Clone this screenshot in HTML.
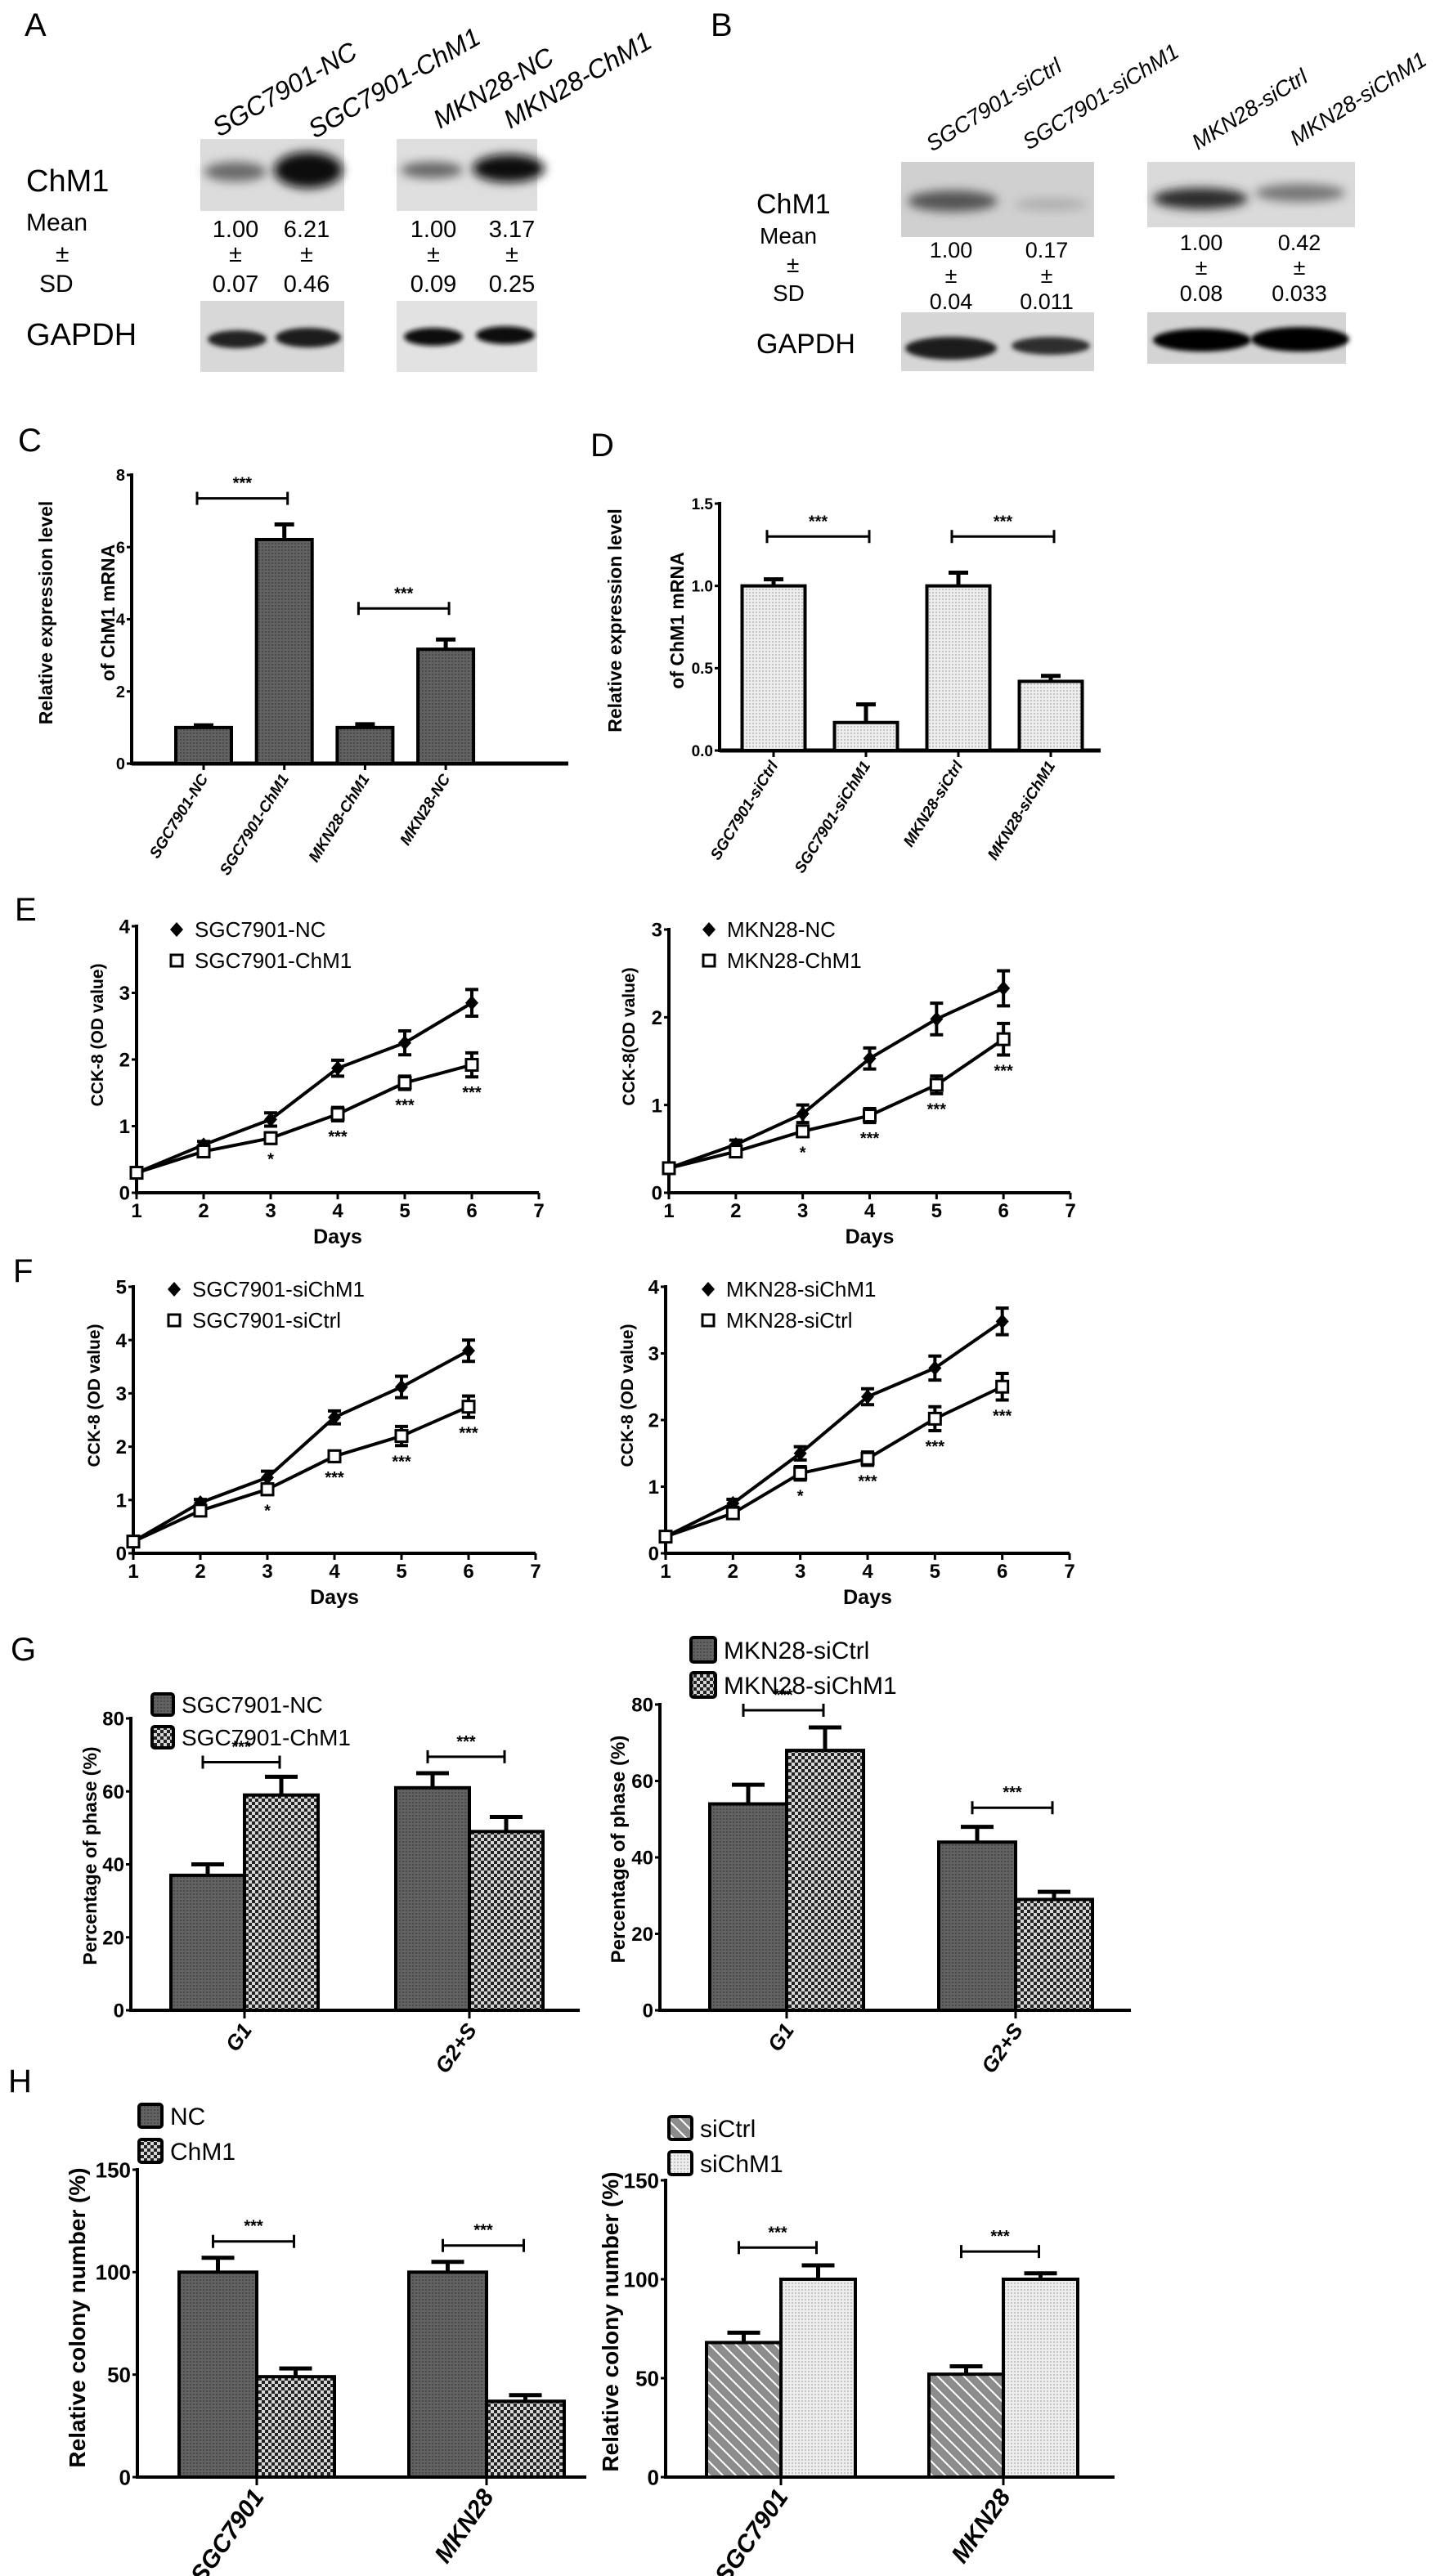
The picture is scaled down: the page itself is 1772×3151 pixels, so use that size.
<!DOCTYPE html>
<html><head><meta charset="utf-8">
<style>
html,body{margin:0;padding:0;background:#fff;}
svg{display:block;}
.lt{font-family:"Liberation Sans Narrow","Liberation Sans",sans-serif;}
.it{font-family:"Liberation Sans",sans-serif;font-style:italic;}
.bd{font-family:"Liberation Sans",sans-serif;font-weight:bold;}
</style></head>
<body>
<svg id="fig" xmlns="http://www.w3.org/2000/svg" width="1772" height="3151" viewBox="0 0 1772 3151">
<defs>
<pattern id="pDark" width="4" height="4" patternUnits="userSpaceOnUse"><rect width="4" height="4" fill="#626262"/><rect width="2" height="2" fill="#4a4a4a"/></pattern>
<pattern id="pCheck" width="8" height="8" patternUnits="userSpaceOnUse"><rect width="8" height="8" fill="#d8d8d8"/><rect width="4" height="4" fill="#222"/><rect x="4" y="4" width="4" height="4" fill="#222"/></pattern>
<pattern id="pHatch" width="16" height="16" patternUnits="userSpaceOnUse"><rect width="16" height="16" fill="#8c8c8c"/><path d="M-4,-4 L20,20 M-4,12 L4,20 M12,-4 L20,4" stroke="#fff" stroke-width="2"/></pattern>
<pattern id="pLight" width="4" height="4" patternUnits="userSpaceOnUse"><rect width="4" height="4" fill="#eeeeee"/><rect width="2" height="2" fill="#c4c4c4"/></pattern>
<filter id="blur6" x="-50%" y="-50%" width="200%" height="200%"><feGaussianBlur stdDeviation="6"/></filter>
<filter id="blur3" x="-50%" y="-50%" width="200%" height="200%"><feGaussianBlur stdDeviation="3"/></filter>
</defs>

<!-- Panel A -->
<g>
<text class="lt" x="30" y="44" font-size="40">A</text>
<text class="it" font-size="32" transform="translate(268,168) rotate(-30)">SGC7901-NC</text>
<text class="it" font-size="32" transform="translate(385,170) rotate(-30)">SGC7901-ChM1</text>
<text class="it" font-size="32" transform="translate(538,158) rotate(-30)">MKN28-NC</text>
<text class="it" font-size="32" transform="translate(624,158) rotate(-30)">MKN28-ChM1</text>
<text class="lt" x="32" y="234" font-size="38">ChM1</text>
<text class="lt" x="32" y="282" font-size="30">Mean</text>
<text class="lt" x="68" y="320" font-size="30">±</text>
<text class="lt" x="48" y="357" font-size="30">SD</text>
<g><rect x="245" y="170" width="176" height="88" fill="#dcdcdc"/><ellipse cx="288" cy="210" rx="38" ry="12" fill="#6a6a6a" filter="url(#blur6)"/><ellipse cx="377" cy="208" rx="42" ry="22" fill="#111" filter="url(#blur6)"/></g>
<g><rect x="485" y="170" width="172" height="88" fill="#dedede"/><ellipse cx="528" cy="208" rx="38" ry="10" fill="#666" filter="url(#blur6)"/><ellipse cx="622" cy="206" rx="44" ry="17" fill="#111" filter="url(#blur6)"/></g>
<g class="lt" font-size="29" text-anchor="middle">
<text x="288" y="290">1.00</text><text x="375" y="290">6.21</text><text x="530" y="290">1.00</text><text x="626" y="290">3.17</text>
<text x="288" y="320">±</text><text x="375" y="320">±</text><text x="530" y="320">±</text><text x="626" y="320">±</text>
<text x="288" y="357">0.07</text><text x="375" y="357">0.46</text><text x="530" y="357">0.09</text><text x="626" y="357">0.25</text>
</g>
<text class="lt" x="32" y="422" font-size="38">GAPDH</text>
<g><rect x="245" y="368" width="176" height="87" fill="#d8d8d8"/><ellipse cx="290" cy="415" rx="36" ry="11" fill="#222" filter="url(#blur3)"/><ellipse cx="377" cy="413" rx="40" ry="12" fill="#1a1a1a" filter="url(#blur3)"/></g>
<g><rect x="485" y="368" width="172" height="87" fill="#e2e2e2"/><ellipse cx="530" cy="412" rx="36" ry="11" fill="#0a0a0a" filter="url(#blur3)"/><ellipse cx="618" cy="410" rx="36" ry="11" fill="#0a0a0a" filter="url(#blur3)"/></g>
</g>

<!-- Panel B -->
<g>
<text class="lt" x="869" y="44" font-size="40">B</text>
<text class="it" font-size="27" transform="translate(1140,186) rotate(-32)">SGC7901-siCtrl</text>
<text class="it" font-size="27" transform="translate(1258,184) rotate(-32)">SGC7901-siChM1</text>
<text class="it" font-size="27" transform="translate(1465,184) rotate(-32)">MKN28-siCtrl</text>
<text class="it" font-size="27" transform="translate(1585,179) rotate(-32)">MKN28-siChM1</text>
<text class="lt" x="925" y="261" font-size="34">ChM1</text>
<text class="lt" x="929" y="298" font-size="28">Mean</text>
<text class="lt" x="962" y="333" font-size="28">±</text>
<text class="lt" x="945" y="368" font-size="28">SD</text>
<g><rect x="1102" y="198" width="236" height="92" fill="#d0d0d0"/><ellipse cx="1165" cy="246" rx="55" ry="13" fill="#555" filter="url(#blur6)"/><ellipse cx="1285" cy="250" rx="45" ry="8" fill="#b0b0b0" filter="url(#blur6)"/></g>
<g><rect x="1403" y="198" width="254" height="80" fill="#dadada"/><ellipse cx="1468" cy="243" rx="58" ry="13" fill="#2a2a2a" filter="url(#blur6)"/><ellipse cx="1590" cy="236" rx="55" ry="11" fill="#777" filter="url(#blur6)"/></g>
<g class="lt" font-size="27" text-anchor="middle">
<text x="1163" y="315">1.00</text><text x="1280" y="315">0.17</text><text x="1469" y="306">1.00</text><text x="1589" y="306">0.42</text>
<text x="1163" y="346">±</text><text x="1280" y="346">±</text><text x="1469" y="336">±</text><text x="1589" y="336">±</text>
<text x="1163" y="378">0.04</text><text x="1280" y="378">0.011</text><text x="1469" y="368">0.08</text><text x="1589" y="368">0.033</text>
</g>
<text class="lt" x="925" y="432" font-size="34">GAPDH</text>
<g><rect x="1102" y="382" width="236" height="72" fill="#d6d6d6"/><ellipse cx="1163" cy="426" rx="56" ry="14" fill="#1e1e1e" filter="url(#blur3)"/><ellipse cx="1285" cy="423" rx="48" ry="11" fill="#2e2e2e" filter="url(#blur3)"/></g>
<g><rect x="1403" y="382" width="243" height="63" fill="#d4d4d4"/><ellipse cx="1470" cy="416" rx="60" ry="14" fill="#050505" filter="url(#blur3)"/><ellipse cx="1590" cy="415" rx="60" ry="15" fill="#050505" filter="url(#blur3)"/></g>
</g>

<text class="lt" x="22" y="552" font-size="40">C</text>
<text class="lt" x="722" y="558" font-size="40">D</text>
<text class="lt" x="18" y="1126" font-size="40">E</text>
<text class="lt" x="16" y="1568" font-size="40">F</text>
<text class="lt" x="13" y="2031" font-size="40">G</text>
<text class="lt" x="10" y="2559" font-size="40">H</text>
<g id="charts"></g>
</svg>

<script>
// ---------- Data ----------
const cCats = ['SGC7901-NC','SGC7901-ChM1','MKN28-ChM1','MKN28-NC'];
const cVals = [1.0, 6.21, 1.0, 3.17];
const cErrs = [0.06, 0.42, 0.09, 0.27];
const cTicks = [0, 2, 4, 6, 8];
const cBrackets = [[0, 1, 7.35], [2, 3, 4.3]];

const dCats = ['SGC7901-siCtrl','SGC7901-siChM1','MKN28-siCtrl','MKN28-siChM1'];
const dVals = [1.0, 0.17, 1.0, 0.42];
const dErrs = [0.04, 0.11, 0.08, 0.033];
const dTicks = [0.0, 0.5, 1.0, 1.5];
const dBrackets = [[0, 1, 1.3], [2, 3, 1.3]];

const days = [1, 2, 3, 4, 5, 6];
const dayTicks = [1, 2, 3, 4, 5, 6, 7];
const stars = ['', '', '*', '***', '***', '***'];

const e1Names = ['SGC7901-NC', 'SGC7901-ChM1'];
const e1A = [0.3, 0.72, 1.1, 1.87, 2.25, 2.85];
const e1AErr = [0.05, 0.05, 0.1, 0.12, 0.18, 0.2];
const e1B = [0.3, 0.62, 0.82, 1.18, 1.65, 1.92];
const e1BErr = [0.05, 0.05, 0.08, 0.1, 0.1, 0.18];
const e1Ticks = [0, 1, 2, 3, 4];

const e2Names = ['MKN28-NC', 'MKN28-ChM1'];
const e2A = [0.28, 0.55, 0.9, 1.53, 1.98, 2.33];
const e2AErr = [0.04, 0.05, 0.1, 0.12, 0.18, 0.2];
const e2B = [0.28, 0.47, 0.7, 0.88, 1.23, 1.75];
const e2BErr = [0.04, 0.04, 0.06, 0.08, 0.1, 0.18];
const e2Ticks = [0, 1, 2, 3];

const f1Names = ['SGC7901-siChM1', 'SGC7901-siCtrl'];
const f1A = [0.22, 0.95, 1.42, 2.55, 3.12, 3.8];
const f1AErr = [0.05, 0.06, 0.12, 0.12, 0.2, 0.2];
const f1B = [0.22, 0.8, 1.2, 1.82, 2.2, 2.75];
const f1BErr = [0.05, 0.06, 0.1, 0.1, 0.18, 0.2];
const f1Ticks = [0, 1, 2, 3, 4, 5];

const f2Names = ['MKN28-siChM1', 'MKN28-siCtrl'];
const f2A = [0.25, 0.75, 1.5, 2.35, 2.78, 3.48];
const f2AErr = [0.04, 0.06, 0.1, 0.12, 0.18, 0.2];
const f2B = [0.25, 0.6, 1.2, 1.42, 2.02, 2.5];
const f2BErr = [0.04, 0.05, 0.1, 0.1, 0.18, 0.2];
const f2Ticks = [0, 1, 2, 3, 4];

const gCats = ['G1', 'G2+S'];
const g1Names = ['SGC7901-NC', 'SGC7901-ChM1'];
const g1A = [37, 61];
const g1AErr = [3, 4];
const g1B = [59, 49];
const g1BErr = [5, 4];
const g1Brackets = [68, 69.5];
const g2Names = ['MKN28-siCtrl', 'MKN28-siChM1'];
const g2A = [54, 44];
const g2AErr = [5, 4];
const g2B = [68, 29];
const g2BErr = [6, 2];
const g2Brackets = [78.5, 53];
const gTicks = [0, 20, 40, 60, 80];

const hCats = ['SGC7901', 'MKN28'];
const h1Names = ['NC', 'ChM1'];
const h1A = [100, 100];
const h1AErr = [7, 5];
const h1B = [49, 37];
const h1BErr = [4, 3];
const h1Brackets = [115, 113];
const h2Names = ['siCtrl', 'siChM1'];
const h2A = [68, 52];
const h2AErr = [5, 4];
const h2B = [100, 100];
const h2BErr = [7, 3];
const h2Brackets = [116, 114];
const hTicks = [0, 50, 100, 150];

// ---------- helpers ----------
const NS = 'http://www.w3.org/2000/svg';
const root = document.getElementById('charts');
function mk(tag, attrs, parent) {
  const e = document.createElementNS(NS, tag);
  for (const k in attrs) e.setAttribute(k, attrs[k]);
  (parent || root).appendChild(e);
  return e;
}
function tx(s, attrs, parent) { const t = mk('text', attrs, parent); t.textContent = s; return t; }

function yAxis(g, o, ticks, fmt) {
  const sy = v => o.yb - v / o.ymax * (o.yb - o.yt);
  const ax = mk('line', {x1: o.x0, y1: o.yt - 2, x2: o.x0, y2: o.yb + 2, stroke: '#000', 'stroke-width': 4}, g);
  
  
  ticks.forEach(v => {
    mk('line', {x1: o.x0 - 6, y1: sy(v), x2: o.x0, y2: sy(v), stroke: '#000', 'stroke-width': 3}, g);
    const t = tx(fmt(v), {x: o.x0 - 8, y: sy(v) + o.tf * 0.36, 'text-anchor': 'end', 'font-size': o.tf, class: 'bd'}, g);
    
    
  });
  return sy;
}
function yTitle(g, lines, x, cy, fs, gap) {
  lines.forEach((s, i) => {
    const t = tx(s, {transform: `translate(${x + i * gap},${cy}) rotate(-90)`, 'text-anchor': 'middle', 'font-size': fs, class: 'bd'}, g);
    
    
  });
}
function bracket(g, xa, xb, y, fs) {
  const p = mk('path', {d: `M${xa},${y - 8} V${y + 8} M${xa},${y} H${xb} M${xb},${y - 8} V${y + 8}`, stroke: '#000', 'stroke-width': 3, fill: 'none'}, g);
  
  
  const t = tx('***', {x: (xa + xb) / 2, y: y - 12, 'text-anchor': 'middle', 'font-size': fs, class: 'bd'}, g);
  
  
}
function bar(g, x, w, y0, y1, fill) {
  const r = mk('rect', {x: x, y: y1, width: w, height: y0 - y1, fill: fill, stroke: '#000', 'stroke-width': 4}, g);
  
  
}
function err(g, cx, ytop, ybar, cap) {
  const p = mk('path', {d: `M${cx},${ybar} V${ytop} M${cx - cap},${ytop} H${cx + cap}`, stroke: '#000', 'stroke-width': 5, fill: 'none'}, g);
  
  
}

// single series bar chart (C, D)
function singleBars(o, cats, vals, errs, ticks, fmt, brackets, fill, titleLines) {
  const g = mk('g', {});
  
  
  const sy = yAxis(g, o, ticks, fmt);
  const xa = mk('line', {x1: o.x0, y1: o.yb, x2: o.x1, y2: o.yb, stroke: '#000', 'stroke-width': 5}, g);
  
  
  const cx = i => o.c0 + i * o.step;
  cats.forEach((c, i) => {
    bar(g, cx(i) - o.bw / 2, o.bw, o.yb, sy(vals[i]), fill);
    err(g, cx(i), sy(vals[i] + errs[i]), sy(vals[i]), 12);
    mk('line', {x1: cx(i), y1: o.yb, x2: cx(i), y2: o.yb + 8, stroke: '#000', 'stroke-width': 3}, g);
    const t = tx(c, {transform: `translate(${cx(i) + 6},${o.yb + 18}) rotate(-58)`, 'text-anchor': 'end', 'font-size': 19, class: 'bd', 'font-style': 'italic'}, g);
    
    
  });
  brackets.forEach(b => bracket(g, cx(b[0]) - 8, cx(b[1]) + 4, sy(b[2]), 20));
  yTitle(g, titleLines, o.tx, (o.yt + o.yb) / 2 - 8, 23, 76);
}

// grouped bar chart (G, H)
function groupBars(o, cats, names, A, AE, B, BE, br, ticks, fills, title) {
  const g = mk('g', {});
  
  
  const sy = yAxis(g, o, ticks, v => String(v));
  const xa = mk('line', {x1: o.x0, y1: o.yb, x2: o.x1, y2: o.yb, stroke: '#000', 'stroke-width': 4}, g);
  
  
  const gc = i => o.c0 + i * o.step;
  cats.forEach((c, i) => {
    const c0 = gc(i);
    bar(g, c0 - o.bw, o.bw, o.yb, sy(A[i]), fills[0]);
    bar(g, c0, o.bw, o.yb, sy(B[i]), fills[1]);
    err(g, c0 - o.bw / 2, sy(A[i] + AE[i]), sy(A[i]), 20);
    err(g, c0 + o.bw / 2, sy(B[i] + BE[i]), sy(B[i]), 20);
    mk('line', {x1: c0, y1: o.yb, x2: c0, y2: o.yb + 10, stroke: '#000', 'stroke-width': 3}, g);
    const t = tx(c, {transform: `translate(${c0 + 10},${o.yb + 24}) rotate(-55)`, 'text-anchor': 'end', 'font-size': o.xf, class: 'bd', 'font-style': 'italic'}, g);
    
    
    bracket(g, c0 - o.bw / 2 - 6, c0 + o.bw / 2 - 2, sy(br[i]), 20);
  });
  names.forEach((n, i) => {
    const ly = o.ly + i * o.lgap;
    const sq = mk('rect', {x: o.lx, y: ly - o.ls / 2, width: o.ls, height: o.ls, rx: 3, fill: fills[i], stroke: '#000', 'stroke-width': 4}, g);
    
    
    const t = tx(n, {x: o.lx + o.ls + 10, y: ly + o.lf * 0.36, 'font-size': o.lf, class: 'lt'}, g);
    
    
  });
  yTitle(g, [title], o.tx, o.tcy, o.titf, 0);
}

// line chart (E, F)
function lineChart(o, names, A, AE, B, BE, ticks) {
  const g = mk('g', {});
  
  
  const sy = yAxis(g, o, ticks, v => String(v));
  const sx = d => o.x0 + (d - 1) / 6 * (o.x1 - o.x0);
  const xa = mk('line', {x1: o.x0, y1: o.yb, x2: o.x1, y2: o.yb, stroke: '#000', 'stroke-width': 4}, g);
  
  
  dayTicks.forEach(d => {
    mk('line', {x1: sx(d), y1: o.yb, x2: sx(d), y2: o.yb + 8, stroke: '#000', 'stroke-width': 3}, g);
    const t = tx(String(d), {x: sx(d), y: o.yb + 30, 'text-anchor': 'middle', 'font-size': 24, class: 'bd'}, g);
    
    
  });
  const dl = tx('Days', {x: sx(4), y: o.yb + 62, 'text-anchor': 'middle', 'font-size': 25, class: 'bd'}, g);
  
  
  [[A, AE], [B, BE]].forEach((s, k) => {
    const vals = s[0], errs = s[1];
    const pl = mk('polyline', {points: days.map((d, i) => `${sx(d)},${sy(vals[i])}`).join(' '), fill: 'none', stroke: '#000', 'stroke-width': 4}, g);
    
    
    days.forEach((d, i) => {
      const x = sx(d), y = sy(vals[i]), yt = sy(vals[i] + errs[i]), ybt = sy(vals[i] - errs[i]);
      const eb = mk('path', {d: `M${x},${yt} V${ybt} M${x - 8},${yt} H${x + 8} M${x - 8},${ybt} H${x + 8}`, stroke: '#000', 'stroke-width': 4, fill: 'none'}, g);
      
      
      let m;
      if (k === 0) m = mk('path', {d: `M${x},${y - 9} L${x + 8},${y} L${x},${y + 9} L${x - 8},${y} Z`, fill: '#000'}, g);
      else m = mk('rect', {x: x - 7, y: y - 7, width: 14, height: 14, fill: '#fff', stroke: '#000', 'stroke-width': 3}, g);
      
      
    });
  });
  days.forEach((d, i) => {
    if (!stars[i]) return;
    const t = tx(stars[i], {x: sx(d), y: sy(B[i] - BE[i]) + 26, 'text-anchor': 'middle', 'font-size': 20, class: 'bd'}, g);
    
    
  });
  names.forEach((n, k) => {
    const ly = o.ly + k * 38, lx = o.lx;
    let m;
    if (k === 0) m = mk('path', {d: `M${lx},${ly - 9} L${lx + 8},${ly} L${lx},${ly + 9} L${lx - 8},${ly} Z`, fill: '#000'}, g);
    else m = mk('rect', {x: lx - 7, y: ly - 7, width: 14, height: 14, fill: '#fff', stroke: '#000', 'stroke-width': 3}, g);
    
    
    const t = tx(n, {x: lx + 22, y: ly + 9, 'font-size': 26, class: 'lt'}, g);
    
    
  });
  yTitle(g, [o.title], o.tx, (o.yt + o.yb) / 2 - 30, 21, 0);
}

// ---------- draw ----------
singleBars({name: 'chart-c', x0: 161, x1: 695, yb: 934, yt: 581, ymax: 8, tf: 20, c0: 249, step: 98.7, bw: 68, tx: 64}, cCats, cVals, cErrs, cTicks, v => String(v), cBrackets, 'url(#pDark)', ['Relative expression level', 'of ChM1 mRNA']);
singleBars({name: 'chart-d', x0: 880, x1: 1346, yb: 918, yt: 616, ymax: 1.5, tf: 19, c0: 946, step: 113, bw: 77, tx: 760}, dCats, dVals, dErrs, dTicks, v => v.toFixed(1), dBrackets, 'url(#pLight)', ['Relative expression level', 'of ChM1 mRNA']);

lineChart({name: 'chart-e-sgc7901', x0: 167, x1: 659, yb: 1459, yt: 1133, ymax: 4, tf: 24, lx: 216, ly: 1137, tx: 126, title: 'CCK-8 (OD value)'}, e1Names, e1A, e1AErr, e1B, e1BErr, e1Ticks);
lineChart({name: 'chart-e-mkn28', x0: 818, x1: 1309, yb: 1459, yt: 1137, ymax: 3, tf: 24, lx: 867, ly: 1137, tx: 776, title: 'CCK-8(OD value)'}, e2Names, e2A, e2AErr, e2B, e2BErr, e2Ticks);
lineChart({name: 'chart-f-sgc7901', x0: 163, x1: 655, yb: 1900, yt: 1574, ymax: 5, tf: 24, lx: 213, ly: 1577, tx: 122, title: 'CCK-8 (OD value)'}, f1Names, f1A, f1AErr, f1B, f1BErr, f1Ticks);
lineChart({name: 'chart-f-mkn28', x0: 814, x1: 1308, yb: 1900, yt: 1574, ymax: 4, tf: 24, lx: 866, ly: 1577, tx: 774, title: 'CCK-8 (OD value)'}, f2Names, f2A, f2AErr, f2B, f2BErr, f2Ticks);

groupBars({name: 'chart-g-sgc7901', x0: 160, x1: 709, yb: 2459, yt: 2102, ymax: 80, tf: 24, c0: 299, step: 275, bw: 90, xf: 26, lx: 186, ly: 2085, lgap: 40, ls: 26, lf: 28, tx: 118, tcy: 2270, titf: 23}, gCats, g1Names, g1A, g1AErr, g1B, g1BErr, g1Brackets, gTicks, ['url(#pDark)', 'url(#pCheck)'], 'Percentage of phase (%)');
groupBars({name: 'chart-g-mkn28', x0: 807, x1: 1383, yb: 2459, yt: 2085, ymax: 80, tf: 24, c0: 962, step: 280, bw: 94, xf: 26, lx: 845, ly: 2018, lgap: 43, ls: 30, lf: 30, tx: 764, tcy: 2262, titf: 24}, gCats, g2Names, g2A, g2AErr, g2B, g2BErr, g2Brackets, gTicks, ['url(#pDark)', 'url(#pCheck)'], 'Percentage of phase (%)');
groupBars({name: 'chart-h-overexpression', x0: 168, x1: 717, yb: 3030, yt: 2654, ymax: 150, tf: 26, c0: 314, step: 281, bw: 95, xf: 30, lx: 170, ly: 2588, lgap: 43, ls: 28, lf: 30, tx: 104, tcy: 2835, titf: 28}, hCats, h1Names, h1A, h1AErr, h1B, h1BErr, h1Brackets, hTicks, ['url(#pDark)', 'url(#pCheck)'], 'Relative colony number (%)');
groupBars({name: 'chart-h-knockdown', x0: 814, x1: 1363, yb: 3030, yt: 2667, ymax: 150, tf: 26, c0: 955, step: 272, bw: 91, xf: 30, lx: 818, ly: 2603, lgap: 43, ls: 28, lf: 30, tx: 756, tcy: 2840, titf: 28}, hCats, h2Names, h2A, h2AErr, h2B, h2BErr, h2Brackets, hTicks, ['url(#pHatch)', 'url(#pLight)'], 'Relative colony number (%)');
</script>
</body></html>
